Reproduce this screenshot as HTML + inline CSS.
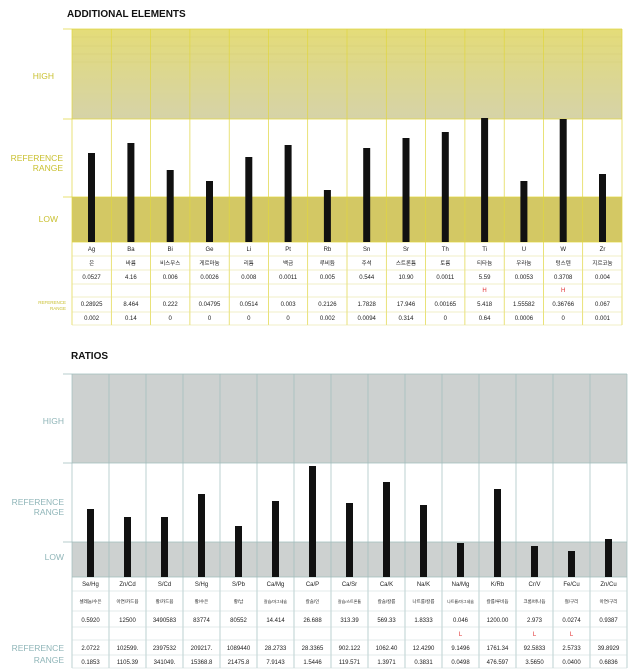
<!DOCTYPE html>
<html><head><meta charset="utf-8"><style>
html,body{margin:0;padding:0;background:#fff;width:640px;height:671px;overflow:hidden}
svg{display:block}
text{font-family:"Liberation Sans","Noto Sans CJK KR",sans-serif}
.t{font-size:6px;fill:#222;text-anchor:middle}
.k{font-size:5.5px;fill:#222;text-anchor:middle}
</style></head><body>
<svg width="640" height="671" viewBox="0 0 640 671" xmlns="http://www.w3.org/2000/svg">
<defs>
<linearGradient id="yb" x1="0" y1="0" x2="0" y2="1"><stop offset="0" stop-color="#e4dc78"/><stop offset="0.5" stop-color="#dcd790"/><stop offset="1" stop-color="#d6d3a8"/></linearGradient>
</defs>
<text x="67" y="17" font-size="10" font-weight="bold" fill="#111">ADDITIONAL ELEMENTS</text>
<!-- top chart -->
<rect x="72" y="29" width="550" height="90" fill="url(#yb)"/>
<g stroke="#cfc870" stroke-width="0.6" opacity="0.6"><line x1="72" y1="37" x2="622" y2="37"/><line x1="72" y1="46" x2="622" y2="46"/><line x1="72" y1="54" x2="622" y2="54"/><line x1="72" y1="62" x2="622" y2="62"/></g>
<rect x="72" y="197" width="550" height="45" fill="#d3c864"/>
<g stroke="#e0d640" stroke-width="0.7">
<line x1="63" y1="29" x2="622" y2="29"/><line x1="63" y1="119" x2="622" y2="119"/><line x1="63" y1="197" x2="622" y2="197"/><line x1="72" y1="242" x2="622" y2="242"/>
<line x1="72" y1="29" x2="72" y2="325"/><line x1="111.3" y1="29" x2="111.3" y2="325"/><line x1="150.6" y1="29" x2="150.6" y2="325"/><line x1="189.9" y1="29" x2="189.9" y2="325"/><line x1="229.2" y1="29" x2="229.2" y2="325"/><line x1="268.4" y1="29" x2="268.4" y2="325"/><line x1="307.7" y1="29" x2="307.7" y2="325"/><line x1="347" y1="29" x2="347" y2="325"/><line x1="386.3" y1="29" x2="386.3" y2="325"/><line x1="425.6" y1="29" x2="425.6" y2="325"/><line x1="464.9" y1="29" x2="464.9" y2="325"/><line x1="504.2" y1="29" x2="504.2" y2="325"/><line x1="543.4" y1="29" x2="543.4" y2="325"/><line x1="582.7" y1="29" x2="582.7" y2="325"/><line x1="622" y1="29" x2="622" y2="325"/>
</g>
<g stroke="#e6e090" stroke-width="0.6"><line x1="72" y1="256" x2="622" y2="256"/><line x1="72" y1="270" x2="622" y2="270"/><line x1="72" y1="284" x2="622" y2="284"/><line x1="72" y1="297" x2="622" y2="297"/><line x1="72" y1="312" x2="622" y2="312"/><line x1="72" y1="325" x2="622" y2="325"/></g>
<g fill="#c9c030" font-size="8.5" text-anchor="end"><text x="54" y="79">HIGH</text><text x="63" y="161">REFERENCE</text><text x="63" y="171">RANGE</text><text x="58" y="222">LOW</text></g>
<g fill="#c9c030" font-size="4.5" text-anchor="end"><text x="66" y="304">REFERENCE</text><text x="66" y="310">RANGE</text></g>
<g fill="#111">
<rect x="88" y="153" width="7" height="89"/><rect x="127.4" y="143" width="7" height="99"/><rect x="166.7" y="170" width="7" height="72"/><rect x="206" y="181" width="7" height="61"/><rect x="245.3" y="157" width="7" height="85"/><rect x="284.6" y="145" width="7" height="97"/><rect x="323.9" y="190" width="7" height="52"/><rect x="363.2" y="148" width="7" height="94"/><rect x="402.5" y="138" width="7" height="104"/><rect x="441.8" y="132" width="7" height="110"/><rect x="481.1" y="118" width="7" height="124"/><rect x="520.4" y="181" width="7" height="61"/><rect x="559.7" y="119" width="7" height="123"/><rect x="599" y="174" width="7" height="68"/>
</g>
<g class="t">
<text class="t" x="91.6" y="251">Ag</text><text class="t" x="130.9" y="251">Ba</text><text class="t" x="170.2" y="251">Bi</text><text class="t" x="209.5" y="251">Ge</text><text class="t" x="248.8" y="251">Li</text><text class="t" x="288.1" y="251">Pt</text><text class="t" x="327.4" y="251">Rb</text><text class="t" x="366.7" y="251">Sn</text><text class="t" x="406" y="251">Sr</text><text class="t" x="445.3" y="251">Th</text><text class="t" x="484.6" y="251">Ti</text><text class="t" x="523.9" y="251">U</text><text class="t" x="563.2" y="251">W</text><text class="t" x="602.5" y="251">Zr</text>
<text class="k" x="91.6" y="265">은</text><text class="k" x="130.9" y="265">바륨</text><text class="k" x="170.2" y="265">비스무스</text><text class="k" x="209.5" y="265">게르마늄</text><text class="k" x="248.8" y="265">리튬</text><text class="k" x="288.1" y="265">백금</text><text class="k" x="327.4" y="265">루비듐</text><text class="k" x="366.7" y="265">주석</text><text class="k" x="406" y="265">스트론튬</text><text class="k" x="445.3" y="265">토륨</text><text class="k" x="484.6" y="265">티타늄</text><text class="k" x="523.9" y="265">우라늄</text><text class="k" x="563.2" y="265">텅스텐</text><text class="k" x="602.5" y="265">지르코늄</text>
<text class="t" x="91.6" y="279">0.0527</text><text class="t" x="130.9" y="279">4.16</text><text class="t" x="170.2" y="279">0.006</text><text class="t" x="209.5" y="279">0.0026</text><text class="t" x="248.8" y="279">0.008</text><text class="t" x="288.1" y="279">0.0011</text><text class="t" x="327.4" y="279">0.005</text><text class="t" x="366.7" y="279">0.544</text><text class="t" x="406" y="279">10.90</text><text class="t" x="445.3" y="279">0.0011</text><text class="t" x="484.6" y="279">5.59</text><text class="t" x="523.9" y="279">0.0053</text><text class="t" x="563.2" y="279">0.3708</text><text class="t" x="602.5" y="279">0.004</text>
<text class="t" x="484.6" y="292" fill="#e03030" style="fill:#e03030">H</text><text class="t" x="563.2" y="292" style="fill:#e03030">H</text>
<text class="t" x="91.6" y="306">0.28925</text><text class="t" x="130.9" y="306">8.464</text><text class="t" x="170.2" y="306">0.222</text><text class="t" x="209.5" y="306">0.04795</text><text class="t" x="248.8" y="306">0.0514</text><text class="t" x="288.1" y="306">0.003</text><text class="t" x="327.4" y="306">0.2126</text><text class="t" x="366.7" y="306">1.7828</text><text class="t" x="406" y="306">17.946</text><text class="t" x="445.3" y="306">0.00165</text><text class="t" x="484.6" y="306">5.418</text><text class="t" x="523.9" y="306">1.55582</text><text class="t" x="563.2" y="306">0.36766</text><text class="t" x="602.5" y="306">0.067</text>
<text class="t" x="91.6" y="320">0.002</text><text class="t" x="130.9" y="320">0.14</text><text class="t" x="170.2" y="320">0</text><text class="t" x="209.5" y="320">0</text><text class="t" x="248.8" y="320">0</text><text class="t" x="288.1" y="320">0</text><text class="t" x="327.4" y="320">0.002</text><text class="t" x="366.7" y="320">0.0094</text><text class="t" x="406" y="320">0.314</text><text class="t" x="445.3" y="320">0</text><text class="t" x="484.6" y="320">0.64</text><text class="t" x="523.9" y="320">0.0006</text><text class="t" x="563.2" y="320">0</text><text class="t" x="602.5" y="320">0.001</text>
</g>

<!-- bottom chart -->
<text x="71" y="359" font-size="10" font-weight="bold" fill="#111">RATIOS</text>
<rect x="72" y="374" width="555" height="89" fill="#cdd1d0"/>
<rect x="72" y="542" width="555" height="35" fill="#cdd1d0"/>
<g stroke="#9fbcbc" stroke-width="0.7">
<line x1="63" y1="374" x2="627" y2="374"/><line x1="63" y1="463" x2="627" y2="463"/><line x1="63" y1="542" x2="627" y2="542"/><line x1="72" y1="577" x2="627" y2="577"/>
<line x1="72" y1="374" x2="72" y2="668"/><line x1="109" y1="374" x2="109" y2="668"/><line x1="146" y1="374" x2="146" y2="668"/><line x1="183" y1="374" x2="183" y2="668"/><line x1="220" y1="374" x2="220" y2="668"/><line x1="257" y1="374" x2="257" y2="668"/><line x1="294" y1="374" x2="294" y2="668"/><line x1="331" y1="374" x2="331" y2="668"/><line x1="368" y1="374" x2="368" y2="668"/><line x1="405" y1="374" x2="405" y2="668"/><line x1="442" y1="374" x2="442" y2="668"/><line x1="479" y1="374" x2="479" y2="668"/><line x1="516" y1="374" x2="516" y2="668"/><line x1="553" y1="374" x2="553" y2="668"/><line x1="590" y1="374" x2="590" y2="668"/><line x1="627" y1="374" x2="627" y2="668"/>
</g>
<g stroke="#c8d8d8" stroke-width="0.6"><line x1="72" y1="591" x2="627" y2="591"/><line x1="72" y1="611" x2="627" y2="611"/><line x1="72" y1="627" x2="627" y2="627"/><line x1="72" y1="640" x2="627" y2="640"/><line x1="72" y1="655" x2="627" y2="655"/><line x1="72" y1="668" x2="627" y2="668"/></g>
<g fill="#8fb5b8" font-size="8.5" text-anchor="end"><text x="64" y="424">HIGH</text><text x="64" y="505">REFERENCE</text><text x="64" y="515">RANGE</text><text x="64" y="560">LOW</text><text x="64" y="651">REFERENCE</text><text x="64" y="663">RANGE</text></g>
<g fill="#111">
<rect x="87" y="509" width="7" height="68"/><rect x="124" y="517" width="7" height="60"/><rect x="161" y="517" width="7" height="60"/><rect x="198" y="494" width="7" height="83"/><rect x="235" y="526" width="7" height="51"/><rect x="272" y="501" width="7" height="76"/><rect x="309" y="466" width="7" height="111"/><rect x="346" y="503" width="7" height="74"/><rect x="383" y="482" width="7" height="95"/><rect x="420" y="505" width="7" height="72"/><rect x="457" y="543" width="7" height="34"/><rect x="494" y="489" width="7" height="88"/><rect x="531" y="546" width="7" height="31"/><rect x="568" y="551" width="7" height="26"/><rect x="605" y="539" width="7" height="38"/>
</g>
<g>
<text class="t" x="90.5" y="586">Se/Hg</text><text class="t" x="127.5" y="586">Zn/Cd</text><text class="t" x="164.5" y="586">S/Cd</text><text class="t" x="201.5" y="586">S/Hg</text><text class="t" x="238.5" y="586">S/Pb</text><text class="t" x="275.5" y="586">Ca/Mg</text><text class="t" x="312.5" y="586">Ca/P</text><text class="t" x="349.5" y="586">Ca/Sr</text><text class="t" x="386.5" y="586">Ca/K</text><text class="t" x="423.5" y="586">Na/K</text><text class="t" x="460.5" y="586">Na/Mg</text><text class="t" x="497.5" y="586">K/Rb</text><text class="t" x="534.5" y="586">Cr/V</text><text class="t" x="571.5" y="586">Fe/Cu</text><text class="t" x="608.5" y="586">Zn/Cu</text>
<text class="k" x="90.5" y="603" style="font-size:4.5px">셀레늄/수은</text><text class="k" x="127.5" y="603" style="font-size:4.5px">아연/카드뮴</text><text class="k" x="164.5" y="603" style="font-size:4.5px">황/카드뮴</text><text class="k" x="201.5" y="603" style="font-size:4.5px">황/수은</text><text class="k" x="238.5" y="603" style="font-size:4.5px">황/납</text><text class="k" x="275.5" y="603" style="font-size:4px">칼슘/마그네슘</text><text class="k" x="312.5" y="603" style="font-size:4.5px">칼슘/인</text><text class="k" x="349.5" y="603" style="font-size:4px">칼슘/스트론튬</text><text class="k" x="386.5" y="603" style="font-size:4.5px">칼슘/칼륨</text><text class="k" x="423.5" y="603" style="font-size:4.5px">나트륨/칼륨</text><text class="k" x="460.5" y="603" style="font-size:4px">나트륨/마그네슘</text><text class="k" x="497.5" y="603" style="font-size:4.5px">칼륨/루비듐</text><text class="k" x="534.5" y="603" style="font-size:4.5px">크롬/바나듐</text><text class="k" x="571.5" y="603" style="font-size:4.5px">철/구리</text><text class="k" x="608.5" y="603" style="font-size:4.5px">아연/구리</text>
<text class="t" x="90.5" y="622">0.5920</text><text class="t" x="127.5" y="622">12500</text><text class="t" x="164.5" y="622">3490583</text><text class="t" x="201.5" y="622">83774</text><text class="t" x="238.5" y="622">80552</text><text class="t" x="275.5" y="622">14.414</text><text class="t" x="312.5" y="622">26.688</text><text class="t" x="349.5" y="622">313.39</text><text class="t" x="386.5" y="622">569.33</text><text class="t" x="423.5" y="622">1.8333</text><text class="t" x="460.5" y="622">0.046</text><text class="t" x="497.5" y="622">1200.00</text><text class="t" x="534.5" y="622">2.973</text><text class="t" x="571.5" y="622">0.0274</text><text class="t" x="608.5" y="622">0.9387</text>
<text class="t" x="460.5" y="636" style="fill:#e03030">L</text><text class="t" x="534.5" y="636" style="fill:#e03030">L</text><text class="t" x="571.5" y="636" style="fill:#e03030">L</text>
<text class="t" x="90.5" y="650">2.0722</text><text class="t" x="127.5" y="650">102599.</text><text class="t" x="164.5" y="650">2397532</text><text class="t" x="201.5" y="650">209217.</text><text class="t" x="238.5" y="650">1089440</text><text class="t" x="275.5" y="650">28.2733</text><text class="t" x="312.5" y="650">28.3365</text><text class="t" x="349.5" y="650">902.122</text><text class="t" x="386.5" y="650">1062.40</text><text class="t" x="423.5" y="650">12.4290</text><text class="t" x="460.5" y="650">9.1496</text><text class="t" x="497.5" y="650">1761.34</text><text class="t" x="534.5" y="650">92.5833</text><text class="t" x="571.5" y="650">2.5733</text><text class="t" x="608.5" y="650">39.8929</text>
<text class="t" x="90.5" y="664">0.1853</text><text class="t" x="127.5" y="664">1105.39</text><text class="t" x="164.5" y="664">341049.</text><text class="t" x="201.5" y="664">15368.8</text><text class="t" x="238.5" y="664">21475.8</text><text class="t" x="275.5" y="664">7.9143</text><text class="t" x="312.5" y="664">1.5446</text><text class="t" x="349.5" y="664">119.571</text><text class="t" x="386.5" y="664">1.3971</text><text class="t" x="423.5" y="664">0.3831</text><text class="t" x="460.5" y="664">0.0498</text><text class="t" x="497.5" y="664">476.597</text><text class="t" x="534.5" y="664">3.5650</text><text class="t" x="571.5" y="664">0.0400</text><text class="t" x="608.5" y="664">0.6836</text>
</g>
</svg>
</body></html>
